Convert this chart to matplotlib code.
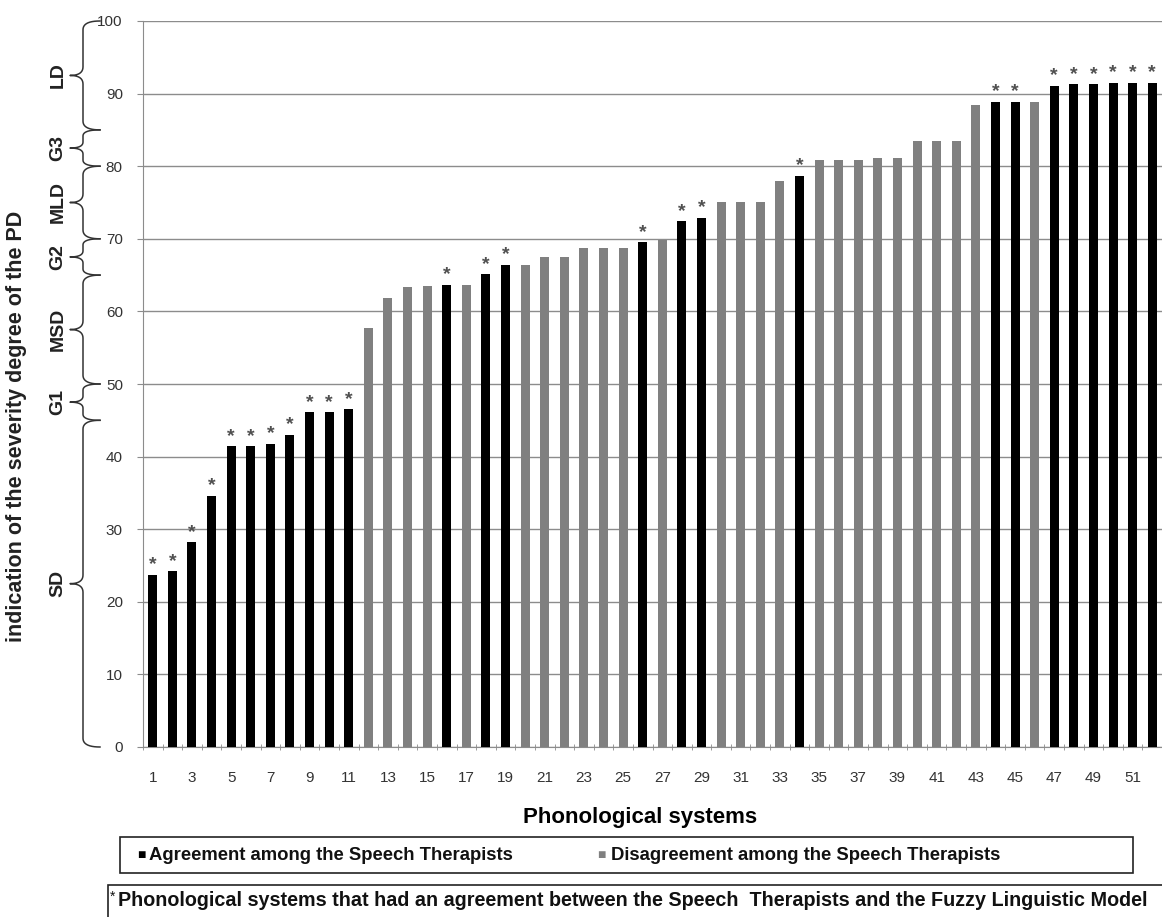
import numpy as np
import matplotlib
matplotlib.use('Agg')
import matplotlib.pyplot as plt
from matplotlib.patches import Rectangle
import matplotlib.transforms as mtransforms

plt.rcParams['font.family'] = ['Liberation Sans', 'DejaVu Sans']

# phonological systems 1..52, severity indication
systems = np.arange(1, 53)
values = [23.7, 24.2, 28.2, 34.6, 41.4, 41.4, 41.8, 43.0, 46.1, 46.1, 46.5,
          57.7, 61.9, 63.3, 63.5, 63.7, 63.7, 65.1, 66.4, 66.4, 67.5, 67.5,
          68.8, 68.8, 68.8, 69.5, 69.9, 72.4, 72.9, 75.0, 75.0, 75.0, 77.9,
          78.7, 80.8, 80.8, 80.8, 81.1, 81.1, 83.5, 83.5, 83.5, 88.4, 88.9,
          88.9, 88.8, 91.1, 91.3, 91.3, 91.5, 91.5, 91.5]
# 1 = agreement among the speech therapists (black, with *)
agreement = ([1]*11 + [0, 0, 0, 0, 1, 0, 1, 1] + [0]*6 + [1, 0, 1, 1]
             + [0]*4 + [1] + [0]*9 + [1, 1, 0] + [1]*6)

# severity groups on the left: (label, low, high)
groups = [('SD', 0, 45), ('G1', 45, 50), ('MSD', 50, 65), ('G2', 65, 70),
          ('MLD', 70, 80), ('G3', 80, 85), ('LD', 85, 100)]

W, H = 1162, 917
fig = plt.figure(figsize=(W/100, H/100), dpi=100)
ax = fig.add_axes([143/W, (H-747)/H, 1-143/W, (747-21)/H])

colors = ['#000000' if a else '#808080' for a in agreement]
ax.bar(systems, values, width=0.46, color=colors, zorder=3)
for s, v, a in zip(systems, values, agreement):
    if a:
        ax.text(s, v+0.2, '*', ha='center', va='bottom', fontsize=14,
                color='#505050', fontweight='bold', zorder=4)

ax.set_ylim(0, 100)
ax.set_xlim(0.5, 52.1)
ax.set_yticks(np.arange(0, 101, 10))
ax.yaxis.grid(True, color='#8c8c8c', lw=1, zorder=0)
ax.set_xticks(systems[::2])
ax.set_xticks(np.arange(0.5, 53, 1), minor=True)
ax.tick_params(axis='x', which='major', length=0, pad=17, labelsize=11, labelcolor='#333333')
ax.tick_params(axis='x', which='minor', length=5, color='#8c8c8c', direction='inout')
ax.tick_params(axis='y', length=4.5, color='#8c8c8c', labelsize=11, labelcolor='#333333', pad=10)
for sp in ['top', 'right']:
    ax.spines[sp].set_visible(False)
ax.spines['left'].set_color('#8c8c8c')
ax.spines['bottom'].set_color('#8c8c8c')
ax.set_xlabel('Phonological systems', fontsize=16, fontweight='bold')
ax.xaxis.set_label_coords((640-143)/(W-143), -(818-747)/726)
ax.xaxis.label.set_va('center')

fig.text(17/W, 1-426/H, 'indication of the severity degree of the PD', rotation=90,
         ha='center', va='center', fontsize=15.5, fontweight='bold', color='#222222')

# curly braces for severity groups
tr = mtransforms.blended_transform_factory(fig.transFigure, ax.transData)
spine_x, tip_x, hook_x = 83/W, 70/W, 100/W
def qbez(p0, p1, p2, n=12):
    t = np.linspace(0, 1, n)[:, None]
    return (1-t)**2*np.array(p0) + 2*(1-t)*t*np.array(p1) + t**2*np.array(p2)
for lab, lo, hi in groups:
    mid = (lo + hi)/2
    d = min(1.2, (hi-lo)/6)
    pts = np.vstack([
        qbez((hook_x, lo), (spine_x, lo), (spine_x, lo+d)),
        qbez((spine_x, mid-d), (spine_x, mid), (tip_x, mid)),
        qbez((tip_x, mid), (spine_x, mid), (spine_x, mid+d)),
        qbez((spine_x, hi-d), (spine_x, hi), (hook_x, hi)),
    ])
    ax.plot(pts[:, 0], pts[:, 1], color='#333333', lw=1.1, transform=tr, clip_on=False)
    ax.text(58/W, mid, lab, rotation=90, ha='center', va='center', fontsize=14,
            fontweight='bold', color='#222222', transform=tr)

# legend box
fig.patches.append(Rectangle((120/W, 1-873/H), (1133-120)/W, 36/H, transform=fig.transFigure,
                             fill=False, ec='#222222', lw=1.2))
fig.text(141/W, 1-855/H, '\u25a0', fontsize=10, color='black', ha='center', va='center')
fig.text(149/W, 1-855/H, 'Agreement among the Speech Therapists', fontsize=13.3,
         fontweight='bold', ha='left', va='center', color='#111111')
fig.text(601/W, 1-855/H, '\u25a0', fontsize=10, color='#808080', ha='center', va='center')
fig.text(611/W, 1-855/H, 'Disagreement among the Speech Therapists', fontsize=13.3,
         fontweight='bold', ha='left', va='center', color='#111111')

# footnote box
fig.patches.append(Rectangle((108/W, -0.05), 1, (917-885)/H + 0.05, transform=fig.transFigure,
                             fill=False, ec='#222222', lw=1.2))
fig.text(110/W, 1-897/H, '*', fontsize=10, ha='left', va='center', color='#111111')
fig.text(118/W, 1-901/H, 'Phonological systems that had an agreement between the Speech  Therapists and the Fuzzy Linguistic Model',
         fontsize=14.2, fontweight='bold', ha='left', va='center', color='#111111')

fig.savefig('out.png', dpi=100, facecolor='white')
